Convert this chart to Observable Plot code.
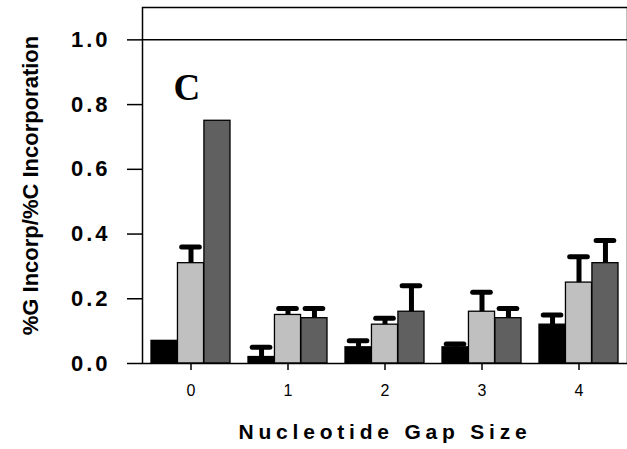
<!DOCTYPE html>
<html>
<head>
<meta charset="utf-8">
<script src="https://cdn.jsdelivr.net/npm/d3@7"></script>
<script src="https://cdn.jsdelivr.net/npm/@observablehq/plot@0.6"></script>
<style>
  html, body { margin: 0; padding: 0; background: #fff; }
  svg { font-family: "Liberation Sans", Arial, sans-serif; }
  g[aria-label="y-axis tick label"] text { letter-spacing: 3px; }
  g[aria-label="x-axis label"] text { letter-spacing: 4.8px; }
</style>
</head>
<body>
<div id="chart"></div>
<script>
// Categories
const gaps = ["0", "1", "2", "3", "4"];
// Series values (bar heights)
const blackVals = [0.07, 0.02, 0.05, 0.05, 0.12];
const lightVals = [0.31, 0.15, 0.12, 0.16, 0.25];
const darkVals  = [0.75, 0.14, 0.16, 0.14, 0.31];
// Upper ends of error bars (null = none)
const blackErr = [null, 0.05, 0.07, 0.06, 0.15];
const lightErr = [0.36, 0.17, 0.14, 0.22, 0.33];
const darkErr  = [null, 0.17, 0.24, 0.17, 0.38];
// Y tick values
const yTicks = [0, 0.2, 0.4, 0.6, 0.8, 1.0];

const series = [
  {vals: blackVals, errs: blackErr, color: "#000000"},
  {vals: lightVals, errs: lightErr, color: "#c0c0c0"},
  {vals: darkVals,  errs: darkErr,  color: "#606060"}
];

const W = 627, H = 449, mL = 142, mR = 0, mT = 7, mB = 86;
const padIn = 0.19, padOut = 0.07;
const band = d3.scaleBand().domain(gaps).range([mL, W - mR]).paddingInner(padIn).paddingOuter(padOut);
const bw = band.bandwidth();
const third = bw / 3;
const capLen = 18;

const marks = [];
series.forEach((s, i) => {
  const rows = gaps.map((g, k) => ({gap: g, value: s.vals[k], err: s.errs[k]}));
  marks.push(Plot.barY(rows, {
    x: "gap", y: "value", fill: s.color, stroke: "#000", strokeWidth: 1.3,
    insetLeft: i * third, insetRight: (2 - i) * third
  }));
});
series.forEach((s, i) => {
  const rows = gaps.map((g, k) => ({gap: g, value: s.vals[k], err: s.errs[k]})).filter(d => d.err != null);
  marks.push(Plot.ruleX(rows, {
    x: "gap", y1: "value", y2: "err", dx: (i - 1) * third, stroke: "#000", strokeWidth: 5
  }));
  marks.push(Plot.tickY(rows, {
    x: "gap", y: "err", stroke: "#000", strokeWidth: 5, strokeLinecap: "round",
    insetLeft: i * third + (third - capLen) / 2,
    insetRight: (2 - i) * third + (third - capLen) / 2
  }));
});
marks.push(Plot.ruleY([1.0], {stroke: "#000", strokeWidth: 1.5}));
marks.push(Plot.frame({stroke: "#000", strokeWidth: 1.5}));
marks.push(Plot.text(["C"], {
  frameAnchor: "top-left", dx: 31, dy: 92, textAnchor: "start", lineAnchor: "bottom",
  fontFamily: "Liberation Serif, Times New Roman, serif", fontWeight: "bold", fontSize: 37, fill: "#000"
}));
marks.push(Plot.axisY({
  ticks: yTicks, tickFormat: d3.format(".1f"), tickSize: 15, tickPadding: 17,
  fontSize: 22, fontWeight: "bold", stroke: "#000", strokeWidth: 1.5,
  label: "%G Incorp/%C Incorporation", labelAnchor: "center", labelOffset: 120, labelArrow: "none"
}));
marks.push(Plot.axisX({
  tickSize: 7, tickPadding: 14, fontSize: 16, stroke: "#000", strokeWidth: 1.5,
  label: "Nucleotide Gap Size", labelAnchor: "center", labelOffset: 75, labelArrow: "none"
}));

const chart = Plot.plot({
  width: W, height: H,
  marginLeft: mL, marginRight: mR, marginTop: mT, marginBottom: mB,
  style: {fontFamily: "Liberation Sans, Arial, sans-serif", color: "#000", background: "#fff"},
  x: {type: "band", domain: gaps, paddingInner: padIn, paddingOuter: padOut},
  y: {domain: [0, 1.1]},
  marks
});
// style axis labels
chart.querySelectorAll('g[aria-label="y-axis label"] text').forEach(t => {
  t.setAttribute("font-weight", "bold");
  t.setAttribute("font-size", "22");
});
chart.querySelectorAll('g[aria-label="x-axis label"] text').forEach(t => {
  t.setAttribute("font-weight", "bold");
  t.setAttribute("font-size", "21");
});
document.getElementById("chart").appendChild(chart);
</script>
</body>
</html>
